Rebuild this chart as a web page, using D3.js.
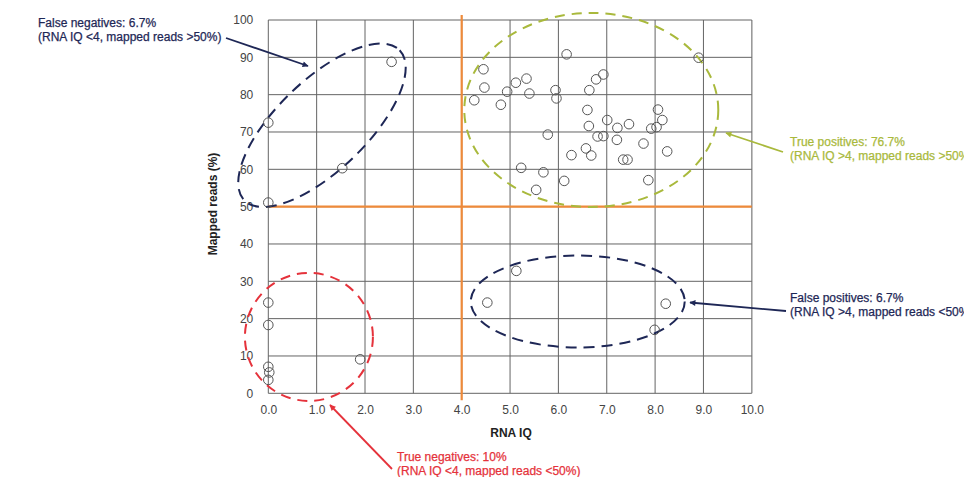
<!DOCTYPE html>
<html>
<head>
<meta charset="utf-8">
<script src="https://cdn.jsdelivr.net/npm/d3@7/dist/d3.min.js"></script>
<style>
  html, body { margin: 0; padding: 0; background: #fff; }
  svg { display: block; font-family: "Liberation Sans", Arial, Helvetica, sans-serif; }
</style>
</head>
<body>
<svg id="chart" width="964" height="477"></svg>
<script>
// RNA IQ versus mapped reads, one point per sample
const truePositives = [
  [6.17, 90.8], [8.90, 89.9], [4.45, 86.8], [4.47, 81.9], [4.26, 78.5],
  [4.81, 77.3], [4.94, 80.8], [5.12, 83.2], [5.34, 84.3], [5.40, 80.3],
  [5.94, 81.2], [5.96, 79.0], [5.78, 69.3], [5.23, 60.4], [5.69, 59.2],
  [5.54, 54.5], [6.12, 56.9], [6.27, 63.8], [6.57, 65.6], [6.68, 63.7],
  [6.60, 75.9], [6.63, 71.6], [6.64, 81.2], [6.78, 84.1], [6.93, 85.4],
  [7.01, 73.2], [6.81, 68.8], [6.93, 68.9], [7.22, 71.1], [7.21, 67.9],
  [7.46, 72.1], [7.34, 62.6], [7.43, 62.6], [7.76, 66.9], [7.86, 57.1],
  [7.92, 70.9], [8.03, 71.3], [8.06, 76.0], [8.15, 73.2], [8.25, 64.8]
];
const falseNegatives = [[0.0, 72.5], [2.55, 88.8], [1.53, 60.3], [0.0, 51.1]];
const falsePositives = [[4.53, 24.3], [5.13, 32.8], [8.22, 24.0], [7.99, 17.0]];
const trueNegatives = [[0.0, 24.3], [0.0, 18.3], [0.0, 7.1], [0.02, 5.6], [0.0, 3.6], [1.9, 9.1]];

const xTicks = [0, 1, 2, 3, 4, 5, 6, 7, 8, 9, 10];
const yTicks = [0, 10, 20, 30, 40, 50, 60, 70, 80, 90, 100];
const rnaIqCutoff = 4;
const mappedReadsCutoff = 50;

const annotationLabels = [
  ["False negatives: 6.7%", "(RNA IQ <4, mapped reads >50%)"],
  ["True positives: 76.7%", "(RNA IQ >4, mapped reads >50%)"],
  ["False positives: 6.7%", "(RNA IQ >4, mapped reads <50%)"],
  ["True negatives: 10%", "(RNA IQ <4, mapped reads <50%)"]
];

const colors = {
  grid: "#646464",
  cutoff: "#ee8a3a",
  navy: "#1e2756",
  green: "#a9b93c",
  red: "#e5323b",
  tick: "#444",
  point: "#555"
};

const svg = d3.select("#chart");
const x = d3.scaleLinear().domain([0, 10]).range([268.3, 751.8]);
const y = d3.scaleLinear().domain([0, 100]).range([393.3, 20]);

// grid
const grid = svg.append("g");
grid.selectAll("line.v").data(xTicks).join("line")
  .attr("x1", d => x(d)).attr("x2", d => x(d))
  .attr("y1", y(0)).attr("y2", y(100))
  .attr("stroke", d => d === 10 ? "#9a9a9a" : colors.grid)
  .attr("stroke-width", d => d === 10 ? 1.6 : 1);
grid.selectAll("line.h").data(yTicks).join("line")
  .attr("x1", x(0)).attr("x2", x(10))
  .attr("y1", d => y(d)).attr("y2", d => y(d))
  .attr("stroke", colors.grid).attr("stroke-width", 1);

// axes (labels only, lines come from the grid)
const xAxis = svg.append("g").attr("transform", `translate(0,${y(0)})`)
  .call(d3.axisBottom(x).tickValues(xTicks).tickFormat(d3.format(".1f")).tickSize(0).tickPadding(12));
const yAxis = svg.append("g").attr("transform", `translate(${x(0)},0)`)
  .call(d3.axisLeft(y).tickValues(yTicks).tickSize(0).tickPadding(15));
[xAxis, yAxis].forEach(a => {
  a.select(".domain").remove();
  a.selectAll("text").attr("fill", colors.tick).style("font-size", "12px")
    .style("font-family", "'Liberation Sans', Arial, sans-serif");
});

// cutoff lines
svg.append("line")
  .attr("x1", x(0)).attr("x2", x(10))
  .attr("y1", y(mappedReadsCutoff)).attr("y2", y(mappedReadsCutoff))
  .attr("stroke", colors.cutoff).attr("stroke-width", 2.2);
svg.append("line")
  .attr("x1", x(rnaIqCutoff)).attr("x2", x(rnaIqCutoff))
  .attr("y1", y(100) - 5).attr("y2", y(0) + 7)
  .attr("stroke", colors.cutoff).attr("stroke-width", 2.2);

// axis titles
svg.append("text").attr("x", 511).attr("y", 437).attr("text-anchor", "middle")
  .attr("font-size", 12).attr("font-weight", "bold").attr("fill", "#222").text("RNA IQ");
svg.append("text").attr("transform", "translate(217,204) rotate(-90)").attr("text-anchor", "middle")
  .attr("font-size", 12).attr("font-weight", "bold").attr("fill", "#222").text("Mapped reads (%)");

// group outlines: center in data units, radii in pixels, rotation in degrees
const outlines = [
  { cx: 1.11, cy: 71.8, rx: 108, ry: 45, rot: -44, color: colors.navy, dash: "11,7" },
  { cx: 6.68, cy: 75.9, rx: 127, ry: 97, rot: 0, color: colors.green, dash: "10,7" },
  { cx: 6.40, cy: 24.6, rx: 107, ry: 46, rot: 0, color: colors.navy, dash: "11,7" },
  { cx: 0.84, cy: 15.1, rx: 64, ry: 64, rot: 0, color: colors.red, dash: "10,7" }
];
svg.append("g").selectAll("ellipse").data(outlines).join("ellipse")
  .attr("transform", d => `translate(${x(d.cx)},${y(d.cy)}) rotate(${d.rot})`)
  .attr("rx", d => d.rx).attr("ry", d => d.ry)
  .attr("fill", "none").attr("stroke", d => d.color)
  .attr("stroke-width", 2).attr("stroke-dasharray", d => d.dash);

// points
const allPoints = truePositives.concat(falseNegatives, falsePositives, trueNegatives);
svg.append("g").selectAll("circle").data(allPoints).join("circle")
  .attr("cx", d => x(d[0])).attr("cy", d => y(d[1])).attr("r", 4.8)
  .attr("fill", "none").attr("stroke", colors.point).attr("stroke-width", 1);

// arrowheads
const defs = svg.append("defs");
[["navy", colors.navy], ["green", colors.green], ["red", colors.red]].forEach(([id, c]) => {
  defs.append("marker").attr("id", "arrow-" + id)
    .attr("viewBox", "0 0 10 10").attr("refX", 9).attr("refY", 5)
    .attr("markerWidth", 8).attr("markerHeight", 6).attr("orient", "auto")
    .attr("markerUnits", "userSpaceOnUse")
    .append("path").attr("d", "M0,0 L10,5 L0,10 z").attr("fill", c);
});

// callouts: label block position, arrow start and arrow tip
const callouts = [
  { lines: annotationLabels[0], tx: 38, ty: 26.5, color: colors.navy, marker: "navy", from: [226, 38], to: [308, 66] },
  { lines: annotationLabels[1], tx: 790, ty: 146, color: colors.green, marker: "green", from: [783, 152], to: [726, 133] },
  { lines: annotationLabels[2], tx: 790, ty: 302, color: colors.navy, marker: "navy", from: [786, 311], to: [690, 302.5] },
  { lines: annotationLabels[3], tx: 397, ty: 461, color: colors.red, marker: "red", from: [392, 469], to: [330, 405] }
];
callouts.forEach(c => {
  svg.append("line")
    .attr("x1", c.from[0]).attr("y1", c.from[1]).attr("x2", c.to[0]).attr("y2", c.to[1])
    .attr("stroke", c.color).attr("stroke-width", 1.8)
    .attr("marker-end", `url(#arrow-${c.marker})`);
  const t = svg.append("text").attr("x", c.tx).attr("y", c.ty)
    .attr("fill", c.color).attr("font-size", 12)
    .attr("stroke", c.color).attr("stroke-width", 0.25);
  c.lines.forEach((line, i) => {
    t.append("tspan").attr("x", c.tx).attr("dy", i === 0 ? 0 : 14).text(line);
  });
});
</script>
</body>
</html>
